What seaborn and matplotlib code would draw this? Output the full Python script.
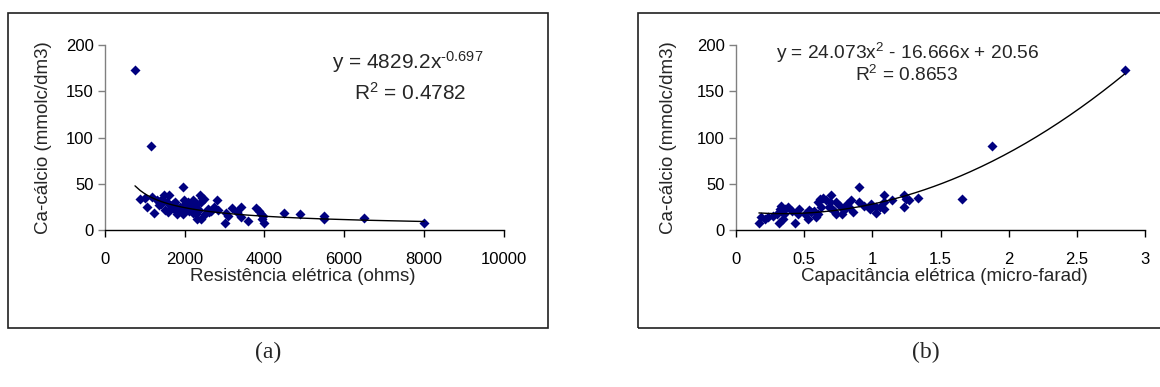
import numpy as np
import pandas as pd
import matplotlib
matplotlib.use("Agg")
import matplotlib.pyplot as plt
from matplotlib.patches import Rectangle
import seaborn as sns

# ---------------- data ----------------
resist_ohms = [753, 1144, 884, 995, 1051, 1190, 1237, 1302, 1367, 1441, 1488, 1553, 1581,
               1609, 1646, 1720, 1767, 1813, 1888, 1953, 1972, 1953, 2018, 2074, 2111, 2167,
               2204, 2232, 2279, 2297, 2372, 2418, 2446, 2493, 2418, 2511, 2576, 2651, 2725,
               2799, 2837, 3023, 3041, 3097, 3190, 3302, 3413, 3422, 3599, 3794, 3860, 3906,
               3934, 3971, 3999, 4492, 4901, 5496, 5496, 6510, 8007,
               1400, 1500, 1700, 2100, 2200, 2350, 2600, 1900, 2000, 2300, 1600, 1350, 1800]
ca_left = [173, 91, 33, 35, 25, 36, 18, 32, 27, 33, 38, 30, 20,
           38, 26, 23, 30, 17, 25, 46, 32, 17, 23, 30, 21, 27,
           32, 25, 17, 12, 38, 30, 35, 33, 12, 17, 23, 21, 25,
           32, 22, 8, 18, 15, 24, 19, 25, 14, 10, 24, 21, 17,
           12, 15, 8, 18, 17, 15, 12, 13, 8,
           28, 22, 28, 26, 18, 22, 20, 21, 28, 28, 22, 30, 24]

capac_uf = [2.851, 1.877, 1.655, 1.336, 1.271, 1.250, 1.231, 1.231, 1.147, 1.082, 1.087, 1.082,
            1.028, 1.025, 0.993, 0.939, 0.903, 0.903, 0.860, 0.844, 0.812, 0.776, 0.763, 0.736,
            0.722, 0.695, 0.703, 0.687, 0.660, 0.641, 0.614, 0.600, 0.622, 0.600, 0.573, 0.587,
            0.460, 0.452, 0.433, 0.384, 0.362, 0.344, 0.352, 0.325, 0.316, 0.303, 0.270, 0.235,
            0.216, 0.181, 0.168, 0.525, 0.506, 0.533, 0.552, 0.790, 0.830, 0.980, 1.055, 0.736,
            0.680, 0.330, 0.410]
ca_right = [173, 91, 33, 35, 32, 34, 38, 25, 32, 38, 30, 23,
            18, 25, 28, 26, 46, 30, 20, 32, 28, 17, 26, 30,
            21, 38, 23, 30, 32, 35, 33, 30, 25, 17, 21, 14,
            23, 17, 8, 25, 23, 12, 17, 23, 8, 17, 15, 14,
            12, 14, 8, 12, 17, 22, 19, 22, 25, 23, 25, 17,
            25, 26, 21]

power_coef = [4829.2, -0.697]          # y = a * x^b
poly_coef = [24.073, -16.666, 20.56]   # y = a x^2 + b x + c

y_ticks = [0, 50, 100, 150, 200]
x_ticks_left = [0, 2000, 4000, 6000, 8000, 10000]
x_ticks_right = [0, 0.5, 1, 1.5, 2, 2.5, 3]
x_ticklabels_right = ["0", "0.5", "1", "1.5", "2", "2.5", "3"]

# ---------------- style ----------------
sns.set_theme(style="white")
plt.rcParams["font.family"] = ["Liberation Sans", "DejaVu Sans"]
plt.rcParams["mathtext.fontset"] = "custom"
plt.rcParams["mathtext.rm"] = "Liberation Sans"
plt.rcParams["mathtext.it"] = "Liberation Sans:italic"
plt.rcParams["mathtext.default"] = "regular"
plt.rcParams["axes.unicode_minus"] = False

W, H = 1160, 387
fig = plt.figure(figsize=(W / 100, H / 100), dpi=100)
fig.patch.set_facecolor("white")

def px_axes(x0, x1, y_top, y_bot):
    return fig.add_axes([x0 / W, 1 - y_bot / H, (x1 - x0) / W, (y_bot - y_top) / H])

axL = px_axes(105, 503.5, 45, 230)
axR = px_axes(736, 1145, 45, 230)

# panel frames
fig.patches.append(Rectangle((7.5 / W, 1 - 328 / H), (548 - 7.5) / W, (328 - 13) / H,
                             transform=fig.transFigure, fill=False, edgecolor="#202020",
                             linewidth=1.2, zorder=0))
fig.patches.append(Rectangle((638 / W, 1 - 328 / H), (1170 - 638) / W, (328 - 13) / H,
                             transform=fig.transFigure, fill=False, edgecolor="#202020",
                             linewidth=1.2, zorder=0))

navy = "#00007f"
dfL = pd.DataFrame({"R": resist_ohms, "Ca": ca_left})
dfR = pd.DataFrame({"C": capac_uf, "Ca": ca_right})

sns.scatterplot(data=dfL, x="R", y="Ca", ax=axL, marker="D", s=26, color=navy,
                edgecolor=navy, linewidth=0, zorder=3)
sns.scatterplot(data=dfR, x="C", y="Ca", ax=axR, marker="D", s=26, color=navy,
                edgecolor=navy, linewidth=0, zorder=3)

xs = np.sort(np.array(resist_ohms, dtype=float))
trendL = pd.DataFrame({"x": xs, "y": power_coef[0] * xs ** power_coef[1]})
sns.lineplot(data=trendL, x="x", y="y", ax=axL, color="black", linewidth=1.0,
             estimator=None, sort=True, zorder=4)
xc = np.linspace(min(capac_uf), max(capac_uf), 200)
trendR = pd.DataFrame({"x": xc, "y": np.polyval(poly_coef, xc)})
sns.lineplot(data=trendR, x="x", y="y", ax=axR, color="black", linewidth=1.0,
             estimator=None, sort=True, zorder=4)

for ax in (axL, axR):
    ax.set_facecolor("none")
    ax.set_ylim(0, 200)
    ax.set_yticks(y_ticks)
    ax.set_yticklabels([str(v) for v in y_ticks])
    for s in ("top", "right"):
        ax.spines[s].set_visible(False)
    ax.spines["left"].set_color("#808080")
    ax.spines["bottom"].set_color("black")
    ax.spines["left"].set_linewidth(1.0)
    ax.spines["bottom"].set_linewidth(1.0)
    ax.tick_params(axis="y", direction="out", length=5, width=1, color="#808080",
                   labelsize=12, pad=3, left=True, labelcolor="black")
    ax.tick_params(axis="x", direction="out", length=5, width=1, color="black",
                   labelsize=12, pad=11, bottom=True, labelcolor="black")
    ax.set_ylabel("Ca-cálcio (mmolc/dm3)", fontsize=13.5)
    ax.grid(False)

axL.yaxis.set_label_coords(-0.134, 0.5)
axR.yaxis.set_label_coords(-0.145, 0.5)

axL.set_xlim(0, 10000)
axL.set_xticks(x_ticks_left)
axL.set_xticklabels([str(v) for v in x_ticks_left])
axL.set_xlabel("Resistência elétrica (ohms)", fontsize=13.5)
axL.xaxis.set_label_coords(0.495, -0.205)

axR.set_xlim(0, 3)
axR.set_xticks(x_ticks_right)
axR.set_xticklabels(x_ticklabels_right)
axR.set_xlabel("Capacitância elétrica (micro-farad)", fontsize=13.5)
axR.xaxis.set_label_coords(0.51, -0.205)

# equations
axL.text(0.759, 0.908, "y = 4829.2x$^{\u2010" + "0.697}$", transform=axL.transAxes,
         ha="center", va="center", fontsize=15)
axL.text(0.766, 0.74, r"R$^{2}$ = 0.4782", transform=axL.transAxes,
         ha="center", va="center", fontsize=15)
axR.text(0.42, 0.957, r"y = 24.073x$^{2}$ - 16.666x + 20.56", transform=axR.transAxes,
         ha="center", va="center", fontsize=13.8)
axR.text(0.418, 0.838, r"R$^{2}$ = 0.8653", transform=axR.transAxes,
         ha="center", va="center", fontsize=13.8)

fig.text(268 / W, 1 - 352 / H, "(a)", ha="center", va="center", fontsize=17,
         family=["Liberation Serif", "DejaVu Serif"])
fig.text(926 / W, 1 - 352 / H, "(b)", ha="center", va="center", fontsize=17,
         family=["Liberation Serif", "DejaVu Serif"])

fig.savefig("out.png", dpi=100, facecolor="white")
